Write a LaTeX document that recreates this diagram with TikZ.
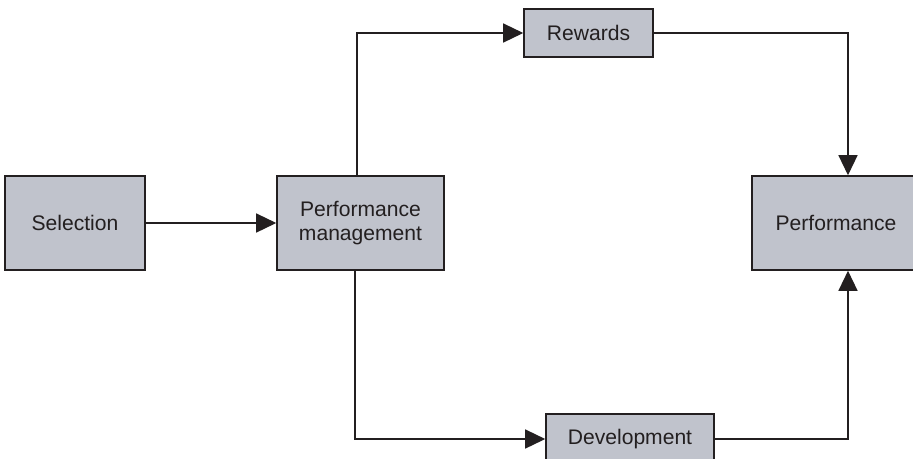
\documentclass[tikz,border=0pt]{standalone}
\usepackage{fontspec}
\setmainfont{Liberation Sans}
\usepackage{xcolor}
\usetikzlibrary{arrows.meta}

\definecolor{boxgray}{RGB}{192,195,204}
\definecolor{inkdark}{RGB}{35,31,32}

\begin{document}
\begin{tikzpicture}[x=0.02cm, y=-0.02cm,
    stage/.style={draw=inkdark, line width=0.9pt, fill=boxgray, text=inkdark, align=center,
        inner sep=0pt, font=\fontsize{12}{13.5}\selectfont},
    link/.style={draw=inkdark, line width=0.75pt, -{Triangle[length=0.4cm, width=0.38cm]}}]
\clip (0, 0) rectangle (913, 458);

% Draw the boxes
\node[stage, minimum width=2.8cm, minimum height=1.88cm] (sel) at (75, 223) {Selection};
\node[stage, minimum width=3.34cm, minimum height=1.88cm] (pm) at (360.5, 223) {Performance\\management};
\node[stage, minimum width=2.58cm, minimum height=0.96cm] (rew) at (588.5, 33) {Rewards};
\node[stage, minimum width=3.36cm, minimum height=1.88cm] (perf) at (836, 223) {Performance};
\node[stage, minimum width=3.36cm, minimum height=1.0cm] (dev) at (630, 439) {Development};

% Draw the connectors
\draw[link] (sel) -- (pm);
\draw[link] ([xshift=-0.07cm]pm.north) |- (rew.west);
\draw[link] (rew.east) -| ([xshift=0.24cm]perf.north);
\draw[link] ([xshift=-0.11cm]pm.south) |- (dev.west);
\draw[link] (dev.east) -| ([xshift=0.24cm]perf.south);

\end{tikzpicture}
\end{document}
